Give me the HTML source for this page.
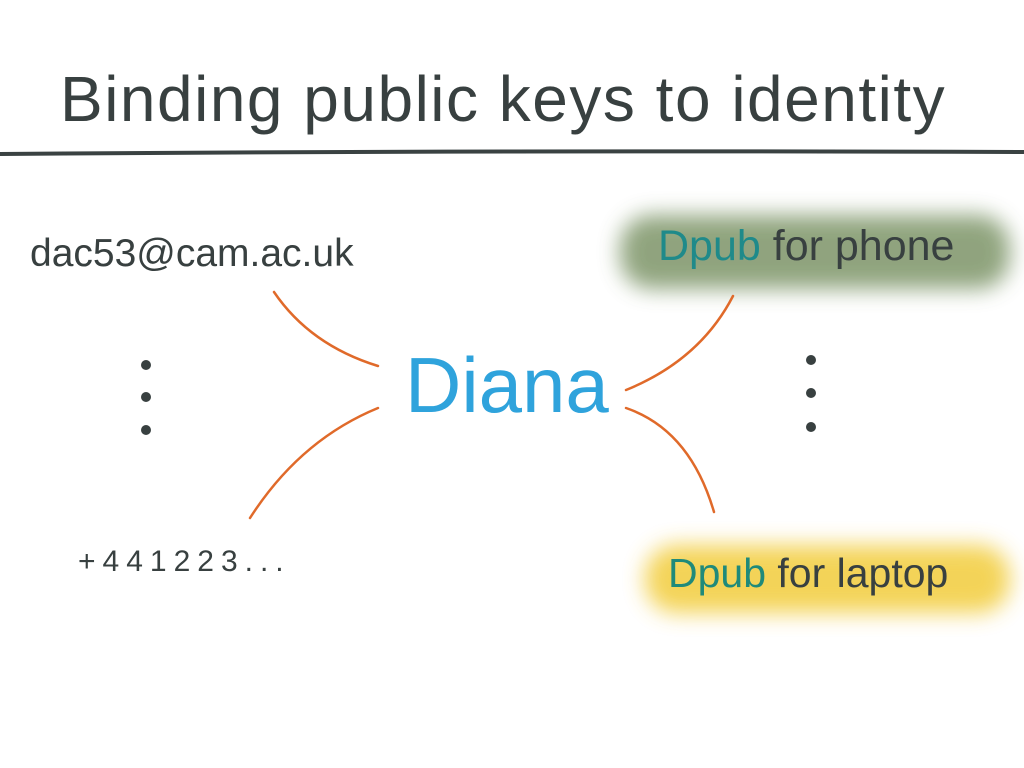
<!DOCTYPE html>
<html><head><meta charset="utf-8"><style>
html,body{margin:0;padding:0;background:#fff;width:1024px;height:768px;overflow:hidden;position:relative;font-family:"Liberation Sans",sans-serif;}
.t{position:absolute;white-space:nowrap;color:#384040;}
</style></head><body>
<svg width="1024" height="768" style="position:absolute;left:0;top:0">
<defs>
<filter id="b" x="-20%" y="-40%" width="140%" height="180%"><feGaussianBlur stdDeviation="11"/></filter>
</defs>
<rect x="620" y="215" width="390" height="74" rx="32" fill="#7d9468" filter="url(#b)" opacity="0.85"/>
<rect x="645" y="545" width="365" height="68" rx="32" fill="#f2cc3a" filter="url(#b)" opacity="0.85"/>
<path d="M0 154 Q500 150 1024 152" stroke="#3a4242" stroke-width="4" fill="none"/>
<g stroke="#e06a2a" stroke-width="2.5" fill="none" stroke-linecap="round">
<path d="M274 292 Q310 345 378 366"/>
<path d="M378 408 Q300 440 250 518"/>
<path d="M626 390 Q700 360 733 296"/>
<path d="M626 408 Q690 430 714 512"/>
</g>
<g fill="#384040">
<circle cx="146" cy="365" r="5"/><circle cx="146" cy="397" r="5"/><circle cx="146" cy="430" r="5"/>
<circle cx="811" cy="360" r="5"/><circle cx="811" cy="393" r="5"/><circle cx="811" cy="427" r="5"/>
</g>
</svg>
<div class="t" style="left:60px;top:62px;font-size:64px;letter-spacing:1.5px">Binding public keys to identity</div>
<div class="t" style="left:30px;top:232px;font-size:39px">dac53@cam.ac.uk</div>
<div class="t" style="left:78px;top:545px;font-size:30px;letter-spacing:7px">+441223...</div>
<div class="t" style="left:405px;top:340px;font-size:78px;color:#2fa3dc">Diana</div>
<div class="t" style="left:658px;top:222px;font-size:43px"><span style="color:#1f8a8a">Dpub</span> for phone</div>
<div class="t" style="left:668px;top:550px;font-size:41px"><span style="color:#1f8a7a">Dpub</span> for laptop</div>
</body></html>
